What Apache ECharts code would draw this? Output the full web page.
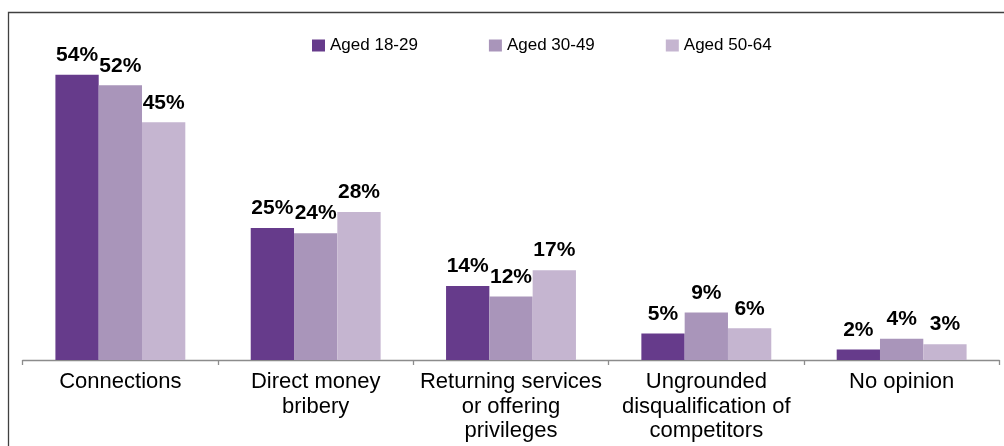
<!DOCTYPE html>
<html>
<head>
<meta charset="utf-8">
<style>
  html, body { margin: 0; padding: 0; background: #fff; }
  #chart { width: 1004px; height: 446px; }
</style>
<script src="https://cdn.jsdelivr.net/npm/echarts@6/dist/echarts.min.js"></script>
</head>
<body>
<div id="chart"></div>
<script>
// Survey answers by age group (percent)
var categories = [
  'Connections',
  'Direct money\nbribery',
  'Returning services\nor offering\nprivileges',
  'Ungrounded\ndisqualification of\ncompetitors',
  'No opinion'
];
var seriesNames = ['Aged 18-29', 'Aged 30-49', 'Aged 50-64'];
var aged18to29 = [54, 25, 14, 5, 2];
var aged30to49 = [52, 24, 12, 9, 4];
var aged50to64 = [45, 28, 17, 6, 3];
var colors = ['#663b8b', '#a995ba', '#c5b5d0'];

var FONT = '"Liberation Sans", Arial, sans-serif';

function makeSeries(name, data, color) {
  return {
    name: name,
    type: 'bar',
    data: data,
    barWidth: 43.3,
    barGap: '0%',
    itemStyle: { color: color },
    label: {
      show: true,
      position: 'top',
      distance: 9,
      formatter: '{c}%',
      fontFamily: FONT,
      fontWeight: 'bold',
      fontSize: 21,
      color: '#000'
    }
  };
}

var chart = echarts.init(document.getElementById('chart'), null, { renderer: 'canvas' });
chart.setOption({
  animation: false,
  backgroundColor: '#fff',
  graphic: [{
    type: 'rect',
    shape: { x: 8.5, y: 12.5, width: 1100, height: 600 },
    style: { fill: 'none', stroke: '#404040', lineWidth: 1.3 },
    silent: true,
    z: 0
  }],
  legend: {
    data: seriesNames,
    left: 307,
    top: 32,
    itemWidth: 13,
    itemHeight: 12,
    itemGap: 71,
    icon: 'rect',
    textStyle: { fontFamily: FONT, fontSize: 17, color: '#000' }
  },
  grid: { left: 22.7, right: 4.7, top: 43, bottom: 86, containLabel: false },
  xAxis: {
    type: 'category',
    data: categories,
    axisLine: { show: true, lineStyle: { color: '#8c8c8c', width: 1.3 } },
    axisTick: { show: true, length: 5, lineStyle: { color: '#8c8c8c', width: 1.3 } },
    axisLabel: {
      interval: 0,
      margin: 10,
      fontFamily: FONT,
      fontSize: 22,
      lineHeight: 24.5,
      color: '#000'
    }
  },
  yAxis: {
    type: 'value',
    min: 0,
    max: 60,
    show: false,
    splitLine: { show: false }
  },
  series: [
    makeSeries(seriesNames[0], aged18to29, colors[0]),
    makeSeries(seriesNames[1], aged30to49, colors[1]),
    makeSeries(seriesNames[2], aged50to64, colors[2])
  ]
});
</script>
</body>
</html>
